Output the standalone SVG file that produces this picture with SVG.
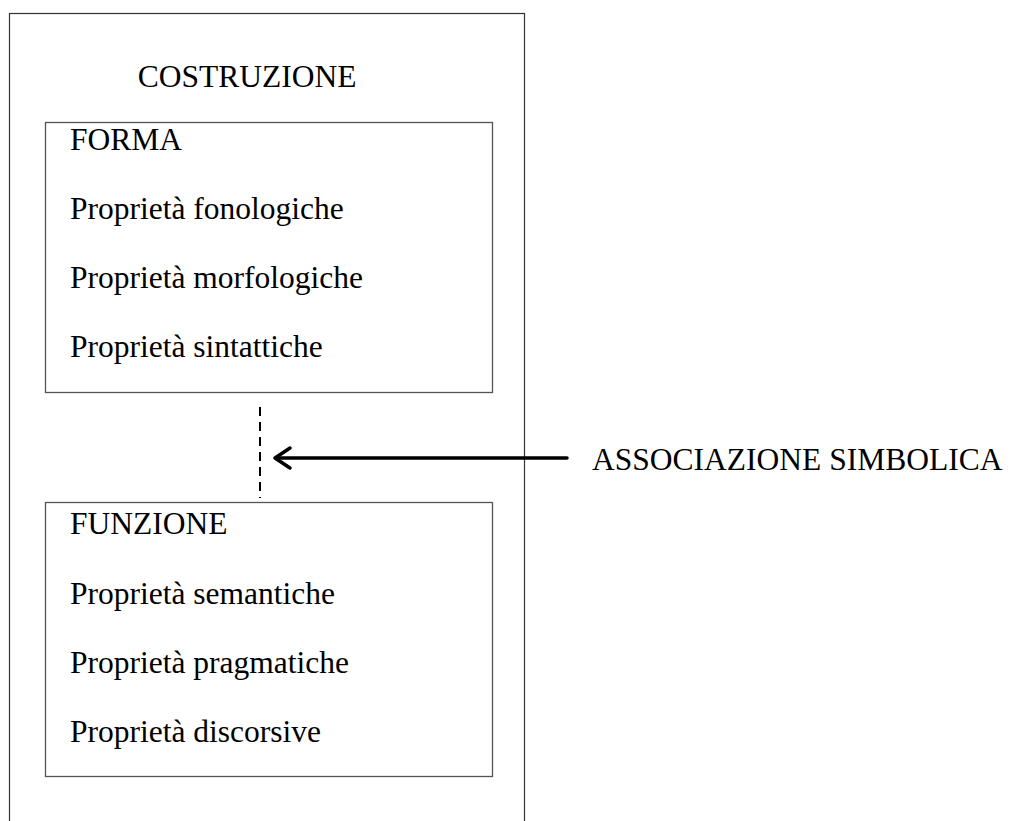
<svg xmlns="http://www.w3.org/2000/svg" width="1010" height="821" viewBox="0 0 1010 821">
  <style>
    .box { fill: #ffffff; stroke: #555555; stroke-width: 1.3; }
    .outer { fill: #ffffff; stroke: #333333; stroke-width: 1.2; }
    .t { font-family: "Liberation Serif", "Times New Roman", serif; font-size: 31.5px; fill: #000000; }
    .dash { stroke: #000000; stroke-width: 2; stroke-dasharray: 9 6; fill: none; }
    .arrow { stroke: #000000; stroke-width: 3.5; fill: none; stroke-linecap: round; stroke-linejoin: round; }
  </style>
  <rect width="1010" height="821" fill="#ffffff"/>

  <g id="costruzione">
    <rect class="outer" x="9.5" y="13.5" width="515" height="830"/>
    <text class="t" x="247" y="87" text-anchor="middle">COSTRUZIONE</text>
  </g>

  <g id="forma">
    <rect class="box" x="45.5" y="122.5" width="447" height="270"/>
    <text class="t" x="70" y="150">FORMA</text>
    <text class="t" x="70" y="219">Proprietà fonologiche</text>
    <text class="t" x="70" y="288">Proprietà morfologiche</text>
    <text class="t" x="70" y="357">Proprietà sintattiche</text>
  </g>

  <g id="funzione">
    <rect class="box" x="45.5" y="502.5" width="447" height="274"/>
    <text class="t" x="70" y="534">FUNZIONE</text>
    <text class="t" x="70" y="604">Proprietà semantiche</text>
    <text class="t" x="70" y="673">Proprietà pragmatiche</text>
    <text class="t" x="70" y="742">Proprietà discorsive</text>
  </g>

  <g id="associazione">
    <text class="t" x="592" y="470">ASSOCIAZIONE SIMBOLICA</text>
  </g>

  <g id="connectors">
    <line class="dash" x1="260" y1="407" x2="260" y2="498"/>
    <line class="arrow" x1="567" y1="458" x2="276" y2="458"/>
    <polyline class="arrow" points="290,448 275,458 290,468"/>
  </g>
</svg>
